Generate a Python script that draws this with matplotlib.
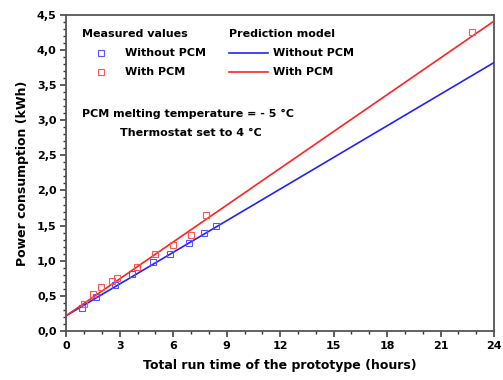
import matplotlib
matplotlib.use("Agg")
import matplotlib.pyplot as plt
from matplotlib.ticker import MultipleLocator, FuncFormatter

# Measured values
without_x = [0.9, 1.68, 2.71, 3.68, 4.88, 5.81, 6.86, 7.74, 8.41]
without_y = [0.32, 0.49, 0.65, 0.81, 0.98, 1.10, 1.25, 1.39, 1.49]
with_x = [0.99, 1.5, 1.94, 2.54, 2.86, 3.98, 4.99, 5.96, 7.01, 7.83, 22.79]
with_y = [0.39, 0.52, 0.62, 0.71, 0.76, 0.91, 1.09, 1.23, 1.37, 1.65, 4.25]

# Prediction model endpoints
model_x = [0, 24]
model_without_y = [0.22, 3.82]
model_with_y = [0.22, 4.41]

x_ticks = [0, 3, 6, 9, 12, 15, 18, 21, 24]

plt.rcParams['font.family'] = ['DejaVu Sans']
plt.rcParams['font.weight'] = 'bold'

BLUE = '#2222ff'
RED = '#ff2222'
MBLUE = '#5555ff'
MRED = '#ff5555'

fig = plt.figure(figsize=(5.03, 3.8), dpi=100)
ax = fig.add_axes([0.132, 0.129, 0.850, 0.832])

ax.plot(model_x, model_without_y, color=BLUE, lw=1.2, zorder=3)
ax.plot(model_x, model_with_y, color=RED, lw=1.2, zorder=3)
ax.plot(without_x, without_y, ls='none', marker='s', ms=5, mfc='none',
        mec=MBLUE, mew=0.8, zorder=4)
ax.plot(with_x, with_y, ls='none', marker='s', ms=5, mfc='none',
        mec=MRED, mew=0.8, zorder=4)

ax.set_xlim(0, 24)
ax.set_ylim(0, 4.5)
ax.set_xticks(x_ticks)
ax.xaxis.set_minor_locator(MultipleLocator(1))
ax.yaxis.set_major_locator(MultipleLocator(0.5))
ax.yaxis.set_minor_locator(MultipleLocator(0.1))
ax.yaxis.set_major_formatter(FuncFormatter(lambda v, p: f"{v:.1f}".replace('.', ',')))

for s in ax.spines.values():
    s.set_color('#555555')
    s.set_linewidth(1.3)
ax.tick_params(which='major', direction='out', length=4, width=1.1, color='#333333',
               labelsize=8, pad=3)
ax.tick_params(which='minor', direction='out', length=2.5, width=1.0, color='#333333')
for lab in ax.get_xticklabels() + ax.get_yticklabels():
    lab.set_fontweight('bold')

ax.set_xlabel('Total run time of the prototype (hours)', fontsize=9, fontweight='bold', labelpad=6)
ax.set_ylabel('Power consumption (kWh)', fontsize=9, fontweight='bold', labelpad=6)

# Legend drawn manually (axes coords)
W, H = 503, 380
x0, x1 = 66, 494
y0, y1 = 331, 15
def ac(px, py):
    return ((px - x0) / (x1 - x0), (y0 - py) / (y0 - y1))

tfs = 8
ax.text(*ac(82, 34), 'Measured values', transform=ax.transAxes, fontsize=tfs,
        fontweight='bold', va='center', ha='left')
ax.text(*ac(229, 34), 'Prediction model', transform=ax.transAxes, fontsize=tfs,
        fontweight='bold', va='center', ha='left')
for py, mc, lc in [(53, MBLUE, BLUE), (72, MRED, RED)]:
    ax.plot(*[[v] for v in ac(100.5, py)], transform=ax.transAxes, marker='s', ms=5,
            mfc='none', mec=mc, mew=0.8, ls='none')
    ax.plot([ac(229, py)[0], ac(268, py)[0]], [ac(229, py)[1]] * 2,
            transform=ax.transAxes, color=lc, lw=1.2)
ax.text(*ac(125, 53), 'Without PCM', transform=ax.transAxes, fontsize=tfs,
        fontweight='bold', va='center', ha='left')
ax.text(*ac(125, 72), 'With PCM', transform=ax.transAxes, fontsize=tfs,
        fontweight='bold', va='center', ha='left')
ax.text(*ac(273, 53), 'Without PCM', transform=ax.transAxes, fontsize=tfs,
        fontweight='bold', va='center', ha='left')
ax.text(*ac(273, 72), 'With PCM', transform=ax.transAxes, fontsize=tfs,
        fontweight='bold', va='center', ha='left')
ax.text(*ac(82, 114), 'PCM melting temperature = - 5 °C', transform=ax.transAxes,
        fontsize=tfs, fontweight='bold', va='center', ha='left')
ax.text(*ac(120, 133), 'Thermostat set to 4 °C', transform=ax.transAxes,
        fontsize=tfs, fontweight='bold', va='center', ha='left')

fig.savefig('out.png', dpi=100)
